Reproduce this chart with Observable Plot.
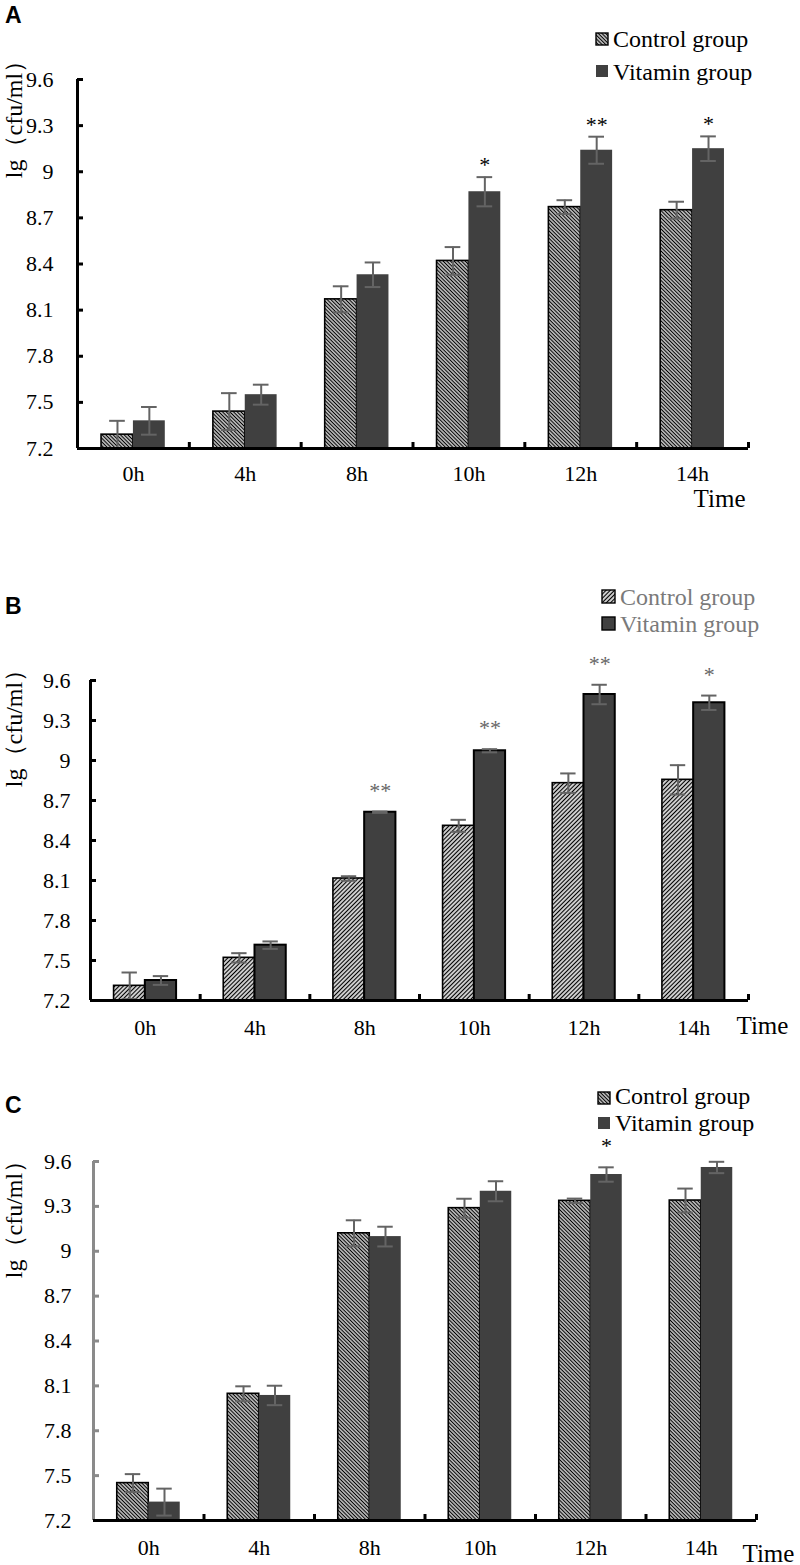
<!DOCTYPE html>
<html><head><meta charset="utf-8">
<script src="https://cdn.jsdelivr.net/npm/d3@7"></script>
<script src="https://cdn.jsdelivr.net/npm/@observablehq/plot@0.6"></script>
<style>
body{margin:0;background:#fff;}
#root{position:relative;width:800px;height:1565px;overflow:hidden;background:#fff;font-family:"Liberation Serif","Times New Roman",serif;}
.panel{position:absolute;left:0;}
.panel text, .panel g{font-family:"Liberation Serif","Times New Roman",serif !important;font-variant:normal !important;}
.letter{position:absolute;font-family:"Liberation Sans",Arial,sans-serif;font-weight:bold;font-size:23px;line-height:23px;color:#000;}
.leg{position:absolute;font-size:24px;line-height:24px;white-space:nowrap;}
.sw{position:absolute;}
</style></head><body><div id="root"></div>
<script>
// ---------- data ----------
const times = ["0h", "4h", "8h", "10h", "12h", "14h"];
const groups = ["Control group", "Vitamin group"];
const yTicks = [7.2, 7.5, 7.8, 8.1, 8.4, 8.7, 9, 9.3, 9.6];

// Panel A
const controlA    = [7.29, 7.44, 8.17, 8.42, 8.77, 8.75];
const controlErrA = [0.09, 0.12, 0.085, 0.09, 0.045, 0.055];
const vitaminA    = [7.38, 7.55, 8.33, 8.87, 9.14, 9.15];
const vitaminErrA = [0.09, 0.065, 0.08, 0.095, 0.088, 0.08];
const starsA      = ["", "", "", "*", "**", "*"];

// Panel B
const controlB    = [7.31, 7.52, 8.115, 8.51, 8.83, 8.855];
const controlErrB = [0.1, 0.035, 0.017, 0.045, 0.073, 0.11];
const vitaminB    = [7.35, 7.615, 8.612, 9.073, 9.495, 9.433];
const vitaminErrB = [0.033, 0.028, 0.005, 0.012, 0.073, 0.054];
const starsB      = ["", "", "**", "**", "**", "*"];

// Panel C
const controlC    = [7.45, 8.047, 9.12, 9.288, 9.337, 9.339];
const controlErrC = [0.06, 0.05, 0.087, 0.063, 0.015, 0.08];
const vitaminC    = [7.323, 8.036, 9.098, 9.401, 9.513, 9.56];
const vitaminErrC = [0.09, 0.065, 0.066, 0.067, 0.048, 0.038];
const starsC      = ["", "", "", "", "*", ""];

// ---------- layout / style ----------
const root = document.getElementById("root");
const VIT = "#404040", ERR = "#646464";
const SERIF = "Liberation Serif";

const panels = [
  {letter: "A", top: 0, height: 520, mt: 79, mb: 72, ml: 77, mr: 52, hatch: "hatchBack", vitStroke: null,
   yAxisColor: "#000", yPad: 24, xPad: 17, starDy: -12, starColor: "#000",
   timeDx: -3, timeDy: 50, timeAnchor: "end", titleDx: -63, titleDy: 34, textColor: "#000",
   legend: {x: 596, sw: 12, textX: 613, rows: [[33, 27], [65, 60]]},
   control: controlA, controlErr: controlErrA, vitamin: vitaminA, vitaminErr: vitaminErrA, stars: starsA},
  {letter: "B", top: 560, height: 520, mt: 120, mb: 80, ml: 90, mr: 52, hatch: "hatchFwd", vitStroke: "#000",
   yAxisColor: "#000", yPad: 20, xPad: 19, starDy: -21, starColor: "#666",
   timeDx: -12, timeDy: 25, timeAnchor: "start", titleDx: -76, titleDy: 42, textColor: "#7a7a7a",
   legend: {x: 602, sw: 13, textX: 620, rows: [[590, 585], [617, 612]]},
   control: controlB, controlErr: controlErrB, vitamin: vitaminB, vitaminErr: vitaminErrB, stars: starsB},
  {letter: "C", top: 1060, height: 505, mt: 101, mb: 45, ml: 93, mr: 44, hatch: "hatchBack", vitStroke: null,
   yAxisColor: "#8a8a8a", yPad: 22, xPad: 19, starDy: -21, starColor: "#000",
   timeDx: -14, timeDy: 33, timeAnchor: "start", titleDx: -79, titleDy: 52, textColor: "#000",
   legend: {x: 598, sw: 12, textX: 615, rows: [[1092, 1084], [1117, 1111]]},
   control: controlC, controlErr: controlErrC, vitamin: vitaminC, vitaminErr: vitaminErrC, stars: starsC}
];

const BAR = 0.285;   // bar width in category units
const CAP = 0.07;    // half cap width in category units

function addPatterns(svg) {
  const defs = d3.select(svg).insert("defs", ":first-child");
  [["hatchBack", -45, 2.6], ["hatchFwd", 45, 3.0]].forEach(([id, rot, s]) => {
    if (document.getElementById(id)) return;
    const p = defs.append("pattern").attr("id", id).attr("patternUnits", "userSpaceOnUse")
      .attr("width", s).attr("height", s).attr("patternTransform", `rotate(${rot})`);
    p.append("rect").attr("width", s).attr("height", s).attr("fill", "#fff");
    p.append("line").attr("x1", s / 2).attr("y1", 0).attr("x2", s / 2).attr("y2", s)
      .attr("stroke", "#000").attr("stroke-width", 1.4);
  });
}

panels.forEach(cfg => {
  const rows = [];
  times.forEach((t, i) => {
    rows.push({i, group: groups[0], value: cfg.control[i], err: cfg.controlErr[i], star: ""});
    rows.push({i, group: groups[1], value: cfg.vitamin[i], err: cfg.vitaminErr[i], star: cfg.stars[i]});
  });
  const x1 = d => d.i + (d.group === groups[0] ? -BAR : 0);
  const cx = d => x1(d) + BAR / 2;
  const ctrl = rows.filter(d => d.group === groups[0]);
  const vit = rows.filter(d => d.group === groups[1]);
  const blank = () => "";

  const svg = Plot.plot({
    width: 800, height: cfg.height,
    marginTop: cfg.mt, marginBottom: cfg.mb, marginLeft: cfg.ml, marginRight: cfg.mr,
    style: {fontFamily: SERIF, fontSize: "22px", color: "#000", background: "transparent", overflow: "visible"},
    x: {type: "linear", domain: [-0.5, times.length - 0.5], axis: null},
    y: {domain: [7.2, 9.6], axis: null},
    marks: [
      Plot.rectY(ctrl, {x1, x2: d => x1(d) + BAR, y1: 7.2, y2: "value", fill: `url(#${cfg.hatch})`, stroke: "#000", strokeWidth: 1.6}),
      Plot.rectY(vit, {x1, x2: d => x1(d) + BAR, y1: 7.2, y2: "value", fill: VIT, stroke: cfg.vitStroke || "none", strokeWidth: 2}),
      Plot.ruleX(rows, {x: cx, y1: d => d.value - d.err, y2: d => d.value + d.err, stroke: ERR, strokeWidth: 2}),
      Plot.ruleY(rows, {y: d => d.value + d.err, x1: d => cx(d) - CAP, x2: d => cx(d) + CAP, stroke: ERR, strokeWidth: 2}),
      Plot.ruleY(rows, {y: d => d.value - d.err, x1: d => cx(d) - CAP, x2: d => cx(d) + CAP, stroke: ERR, strokeWidth: 2}),
      Plot.text(rows.filter(d => d.star), {x: cx, y: d => d.value + d.err, text: "star", dy: cfg.starDy, fontSize: 22, fontFamily: SERIF, fill: cfg.starColor}),
      // axes
      Plot.ruleX([-0.5], {y1: 7.2, y2: 9.6, stroke: cfg.yAxisColor, strokeWidth: 3}),
      Plot.axisY(yTicks, {tickSize: 6, dx: 6, strokeWidth: 3, stroke: cfg.yAxisColor, tickFormat: blank, label: null}),
      Plot.axisY(yTicks, {tickSize: 0, tickPadding: cfg.yPad, fontSize: 22, fontFamily: SERIF, fontVariant: "normal", fill: "#000", tickFormat: d => String(+d.toFixed(1)), label: null}),
      Plot.ruleY([7.2], {stroke: "#000", strokeWidth: 3}),
      Plot.axisX(times.map((_, i) => i + 0.5), {tickSize: 6, dy: -6, strokeWidth: 3, stroke: "#000", tickFormat: blank, label: null}),
      Plot.axisX(times.map((_, i) => i), {tickSize: 0, tickPadding: cfg.xPad, fontSize: 22, fontFamily: SERIF, fontVariant: "normal", fill: "#000", tickFormat: i => times[i], label: null}),
      Plot.text(["Time"], {frameAnchor: "bottom-right", lineAnchor: "middle", dx: cfg.timeDx, dy: cfg.timeDy, textAnchor: cfg.timeAnchor, fontSize: 25, fontFamily: SERIF, fill: "#000"}),
      Plot.text(["lg（cfu/ml）"], {frameAnchor: "top-left", lineAnchor: "middle", rotate: -90, dx: cfg.titleDx, dy: cfg.titleDy, textAnchor: "middle", fontSize: 24, fontFamily: SERIF, fill: "#000"})
    ]
  });
  addPatterns(svg);
  svg.classList.add("panel");
  svg.style.top = cfg.top + "px";
  root.appendChild(svg);

  // panel letter
  const L = document.createElement("div");
  L.className = "letter";
  L.textContent = cfg.letter;
  L.style.left = "5px";
  L.style.top = (cfg.letter === "A" ? 4 : cfg.letter === "B" ? 595 : 1094) + "px";
  root.appendChild(L);

  // legend
  const lg = cfg.legend;
  groups.forEach((g, k) => {
    const [swY, txtTop] = lg.rows[k];
    const s = d3.create("svg").attr("class", "sw").attr("width", lg.sw + 2).attr("height", lg.sw + 2)
      .style("left", (lg.x - 1) + "px").style("top", (swY - 1) + "px");
    s.append("rect").attr("x", 1).attr("y", 1).attr("width", lg.sw).attr("height", lg.sw)
      .attr("fill", k === 0 ? `url(#${cfg.hatch})` : VIT)
      .attr("stroke", k === 0 || cfg.vitStroke ? "#000" : "none").attr("stroke-width", 1.4);
    root.appendChild(s.node());
    const t = document.createElement("div");
    t.className = "leg";
    t.textContent = g;
    t.style.left = lg.textX + "px";
    t.style.top = txtTop + "px";
    t.style.color = cfg.textColor;
    root.appendChild(t);
  });
});
</script></body></html>
